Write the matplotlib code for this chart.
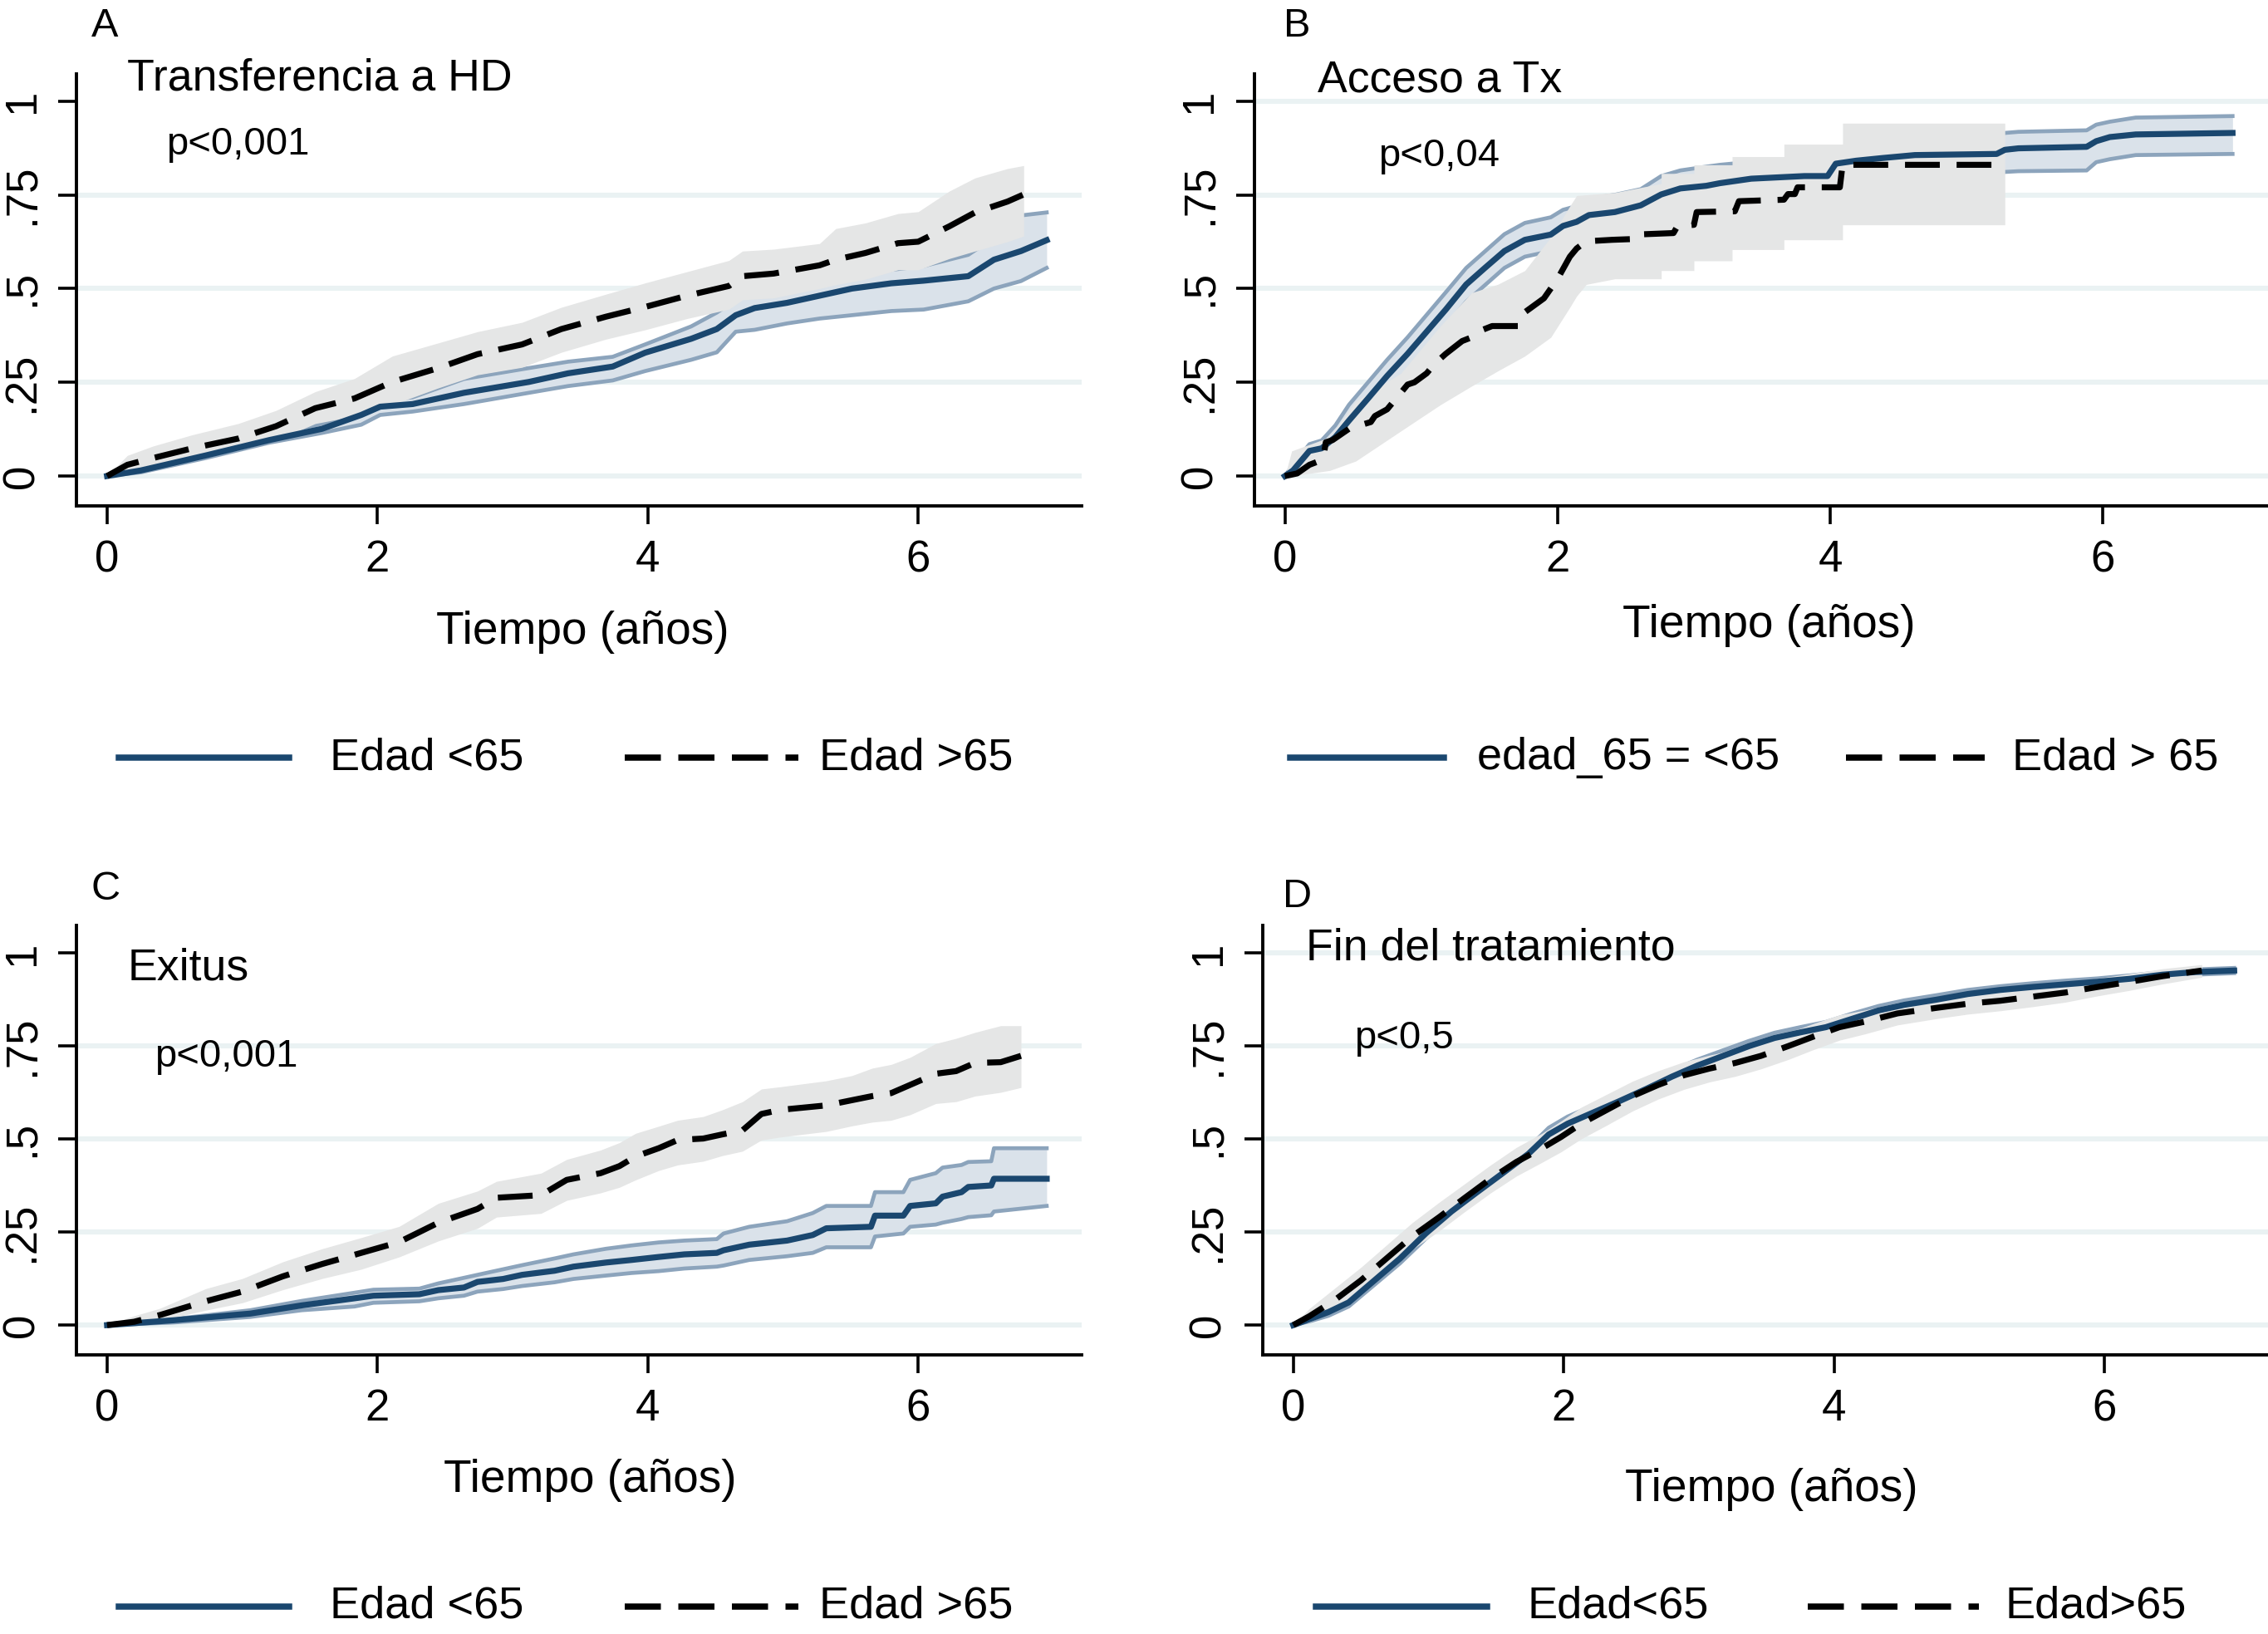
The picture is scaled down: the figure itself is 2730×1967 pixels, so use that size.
import matplotlib
matplotlib.use("Agg")
import matplotlib.pyplot as plt
from matplotlib.lines import Line2D

plt.rcParams['font.family'] = ['Liberation Sans', 'DejaVu Sans']

NAVY = '#1a476f'
CI_LINE = '#8ca4bc'
CI_FILL = '#dae2ea'
GRAY_FILL = '#e5e6e6'
GRID = '#eaf2f3'

# ---------- A: Transferencia a HD ----------
a_young_t = [0, 0.25, 0.73, 1.2, 1.59, 1.88, 2.02, 2.26, 2.64, 3.12, 3.41, 3.74, 3.98, 4.32, 4.51, 4.65, 4.79,
             5.03, 5.27, 5.51, 5.8, 6.04, 6.37, 6.56, 6.76, 6.95]
a_young = [0, .015, .055, .096, .126, .163, .185, .192, .222, .251, .274, .292, .329, .366, .392, .429, .448,
           .462, .481, .500, .514, .521, .533, .577, .600, .629]
a_young_hi = [0, .02, .063, .107, .14, .17, .2, .21, .259, .288, .305, .318, .351, .399, .436, .47, .485,
              .50, .515, .53, .55, .56, .59, .636, .695, .703]
a_young_lo = [0, .01, .048, .089, .115, .137, .163, .172, .192, .222, .24, .255, .28, .31, .33, .385, .39,
              .407, .42, .429, .44, .444, .466, .50, .52, .555]

a_old_t = [0, 0.15, 0.34, 0.63, 0.97, 1.25, 1.54, 1.83, 2.11, 2.45, 2.74, 3.07, 3.36, 3.69, 3.98, 4.29, 4.6,
           4.7, 4.93, 5.27, 5.39, 5.61, 5.85, 6.0, 6.23, 6.42, 6.66, 6.78]
a_old = [0, .03, .048, .074, .10, .133, .181, .207, .251, .288, .325, .351, .392, .425, .451, .481, .507,
         .533, .540, .562, .577, .595, .621, .625, .666, .703, .732, .751]
a_old_hi = [0, .055, .08, .11, .14, .175, .225, .26, .32, .355, .385, .41, .45, .485, .515, .545, .575,
            .60, .605, .62, .66, .675, .70, .705, .76, .795, .82, .828]
a_old_lo = [0, .01, .025, .045, .07, .095, .14, .16, .19, .235, .27, .29, .33, .365, .39, .42, .445,
            .47, .475, .50, .51, .525, .55, .55, .58, .60, .625, .64]

# ---------- B: Acceso a Tx ----------
b_young_t = [0, .06, .18, .27, .37, .47, .61, .75, .90, 1.04, 1.18, 1.33, 1.47, 1.61, 1.76, 1.95, 2.04, 2.14,
             2.23, 2.42, 2.61, 2.76, 2.90, 3.09, 3.19, 3.42, 3.81, 3.98, 4.04, 4.19, 4.38, 4.62, 5.22, 5.28,
             5.38, 5.88, 5.95, 6.05, 6.24, 6.95]
b_young = [0, .015, .067, .074, .104, .148, .207, .267, .326, .385, .444, .511, .556, .600, .630, .644, .667,
           .678, .696, .704, .722, .751, .767, .774, .781, .793, .800, .800, .833, .841, .848, .856, .859,
           .870, .874, .878, .893, .904, .911, .915]
b_young_hi = [0, .03, .085, .095, .135, .19, .25, .31, .37, .43, .49, .555, .60, .645, .675, .69, .71, .72,
              .74, .75, .765, .80, .815, .825, .83, .838, .845, .86, .87, .878, .885, .89, .905, .915, .918,
              .922, .937, .945, .956, .96]
b_young_lo = [0, .005, .045, .05, .07, .105, .165, .225, .28, .34, .40, .465, .51, .555, .585, .60, .62, .63,
              .65, .66, .675, .70, .72, .725, .735, .745, .755, .775, .79, .80, .81, .81, .81, .811, .813,
              .815, .837, .845, .856, .859]

b_old_t = [0, .09, .18, .28, .30, .35, .47, .50, .63, .66, .75, .80, .90, .95, 1.04, 1.10, 1.18, 1.30, 1.37,
           1.45, 1.52, 1.71, 1.73, 1.76, 1.90, 2.00, 2.09, 2.14, 2.21, 2.40, 2.55, 2.57, 2.85, 2.88, 3.00,
           3.02, 3.30, 3.33, 3.66, 3.69, 3.74, 3.76, 4.07, 4.09, 5.28]
b_old = [0, .007, .03, .044, .09, .096, .126, .13, .144, .16, .178, .2, .244, .25, .274, .3, .326, .36, .37,
         .39, .40, .40, .42, .437, .474, .526, .585, .607, .626, .63, .632, .644, .648, .667, .670,
         .704, .706, .733, .737, .752, .752, .77, .77, .83, .83]
b_old_band_t = [0, .05, .33, .52, .85, 1.14, 1.37, 1.56, 1.76, 1.95, 2.09, 2.14, 2.21, 2.42, 2.76, 2.76,
                3.00, 3.00, 3.28, 3.28, 3.66, 3.66, 4.09, 4.09, 5.28]
b_old_hi = [0, .067, .104, .20, .274, .40, .489, .511, .548, .637, .72, .748, .75, .756, .78, .807,
            .807, .83, .83, .852, .852, .885, .885, .941, .941]
b_old_lo = [0, 0, .015, .04, .12, .19, .24, .28, .32, .37, .45, .48, .511, .526, .526, .548,
            .548, .574, .574, .604, .604, .63, .63, .67, .67]

# ---------- C: Exitus ----------
c_young_t = [0, .49, 1.06, 1.44, 1.83, 1.97, 2.31, 2.45, 2.64, 2.74, 2.93, 3.07, 3.31, 3.45, 3.69, 3.88, 4.08,
             4.27, 4.51, 4.56, 4.75, 5.03, 5.22, 5.32, 5.65, 5.68, 5.89, 5.94, 6.13, 6.18, 6.32, 6.37, 6.54,
             6.56, 6.95]
c_young = [0, .013, .031, .053, .072, .079, .083, .094, .101, .116, .124, .135, .146, .157, .168, .175, .183,
           .19, .194, .201, .216, .227, .242, .26, .264, .294, .294, .32, .327, .345, .357, .371, .375,
           .393, .393]
c_young_hi = [0, .016, .04, .065, .087, .095, .098, .112, .127, .135, .15, .161, .179, .19, .205, .214, .222,
              .227, .231, .246, .264, .279, .301, .32, .32, .357, .357, .39, .408, .423, .43, .438, .44,
              .475, .475]
c_young_lo = [0, .007, .022, .04, .05, .06, .064, .072, .079, .09, .097, .105, .115, .124, .133, .14, .145,
              .152, .157, .16, .175, .185, .194, .209, .209, .238, .246, .264, .27, .275, .285, .29, .295,
              .305, .32]

c_old_t = [0, .2, .39, .73, 1.0, 1.3, 1.59, 1.88, 2.16, 2.45, 2.74, 2.88, 3.21, 3.40, 3.65, 3.79, 3.91, 4.08,
           4.22, 4.41, 4.55, 4.70, 4.84, 4.98, 5.32, 5.51, 5.66, 5.80, 5.94, 6.13, 6.28, 6.42, 6.61, 6.76]
c_old = [0, .009, .027, .064, .09, .131, .164, .194, .223, .275, .312, .342, .349, .39, .408, .427, .453, .475,
         .497, .501, .512, .523, .567, .578, .59, .604, .615, .623, .645, .675, .682, .704, .706, .723]
c_old_hi = [0, .025, .045, .098, .125, .17, .205, .235, .265, .327, .36, .386, .408, .445, .47, .49, .515, .534,
            .55, .56, .578, .6, .634, .64, .656, .67, .69, .70, .719, .756, .77, .786, .804, .804]
c_old_lo = [0, .003, .012, .04, .06, .095, .125, .15, .183, .226, .26, .29, .30, .335, .355, .37, .39, .415,
            .43, .44, .455, .467, .497, .505, .52, .535, .545, .55, .565, .595, .60, .615, .625, .638]

# ---------- D: Fin del tratamiento ----------
d_young_t = [0, .12, .26, .41, .60, .79, .98, 1.17, 1.36, 1.55, 1.74, 1.89, 2.03, 2.22, 2.41, 2.61, 2.80,
             2.99, 3.18, 3.37, 3.56, 3.75, 3.94, 4.13, 4.33, 4.52, 4.76, 4.99, 5.23, 5.47, 5.71, 5.95, 6.19,
             6.43, 6.67, 6.96]
d_young = [0, .016, .035, .061, .12, .179, .246, .305, .357, .408, .46, .512, .541, .571, .601, .634, .667,
           .697, .723, .749, .771, .786, .80, .822, .845, .86, .874, .889, .90, .908, .915, .922, .93, .941,
           .948, .952]
d_young_hi = [0, .022, .045, .072, .132, .192, .26, .318, .37, .423, .476, .53, .56, .59, .62, .652, .684,
              .713, .738, .763, .785, .80, .814, .836, .857, .872, .886, .90, .91, .918, .925, .931, .939,
              .948, .955, .959]
d_young_lo = [0, .01, .025, .05, .108, .166, .232, .292, .344, .393, .444, .494, .522, .552, .582, .616, .65,
              .681, .708, .735, .757, .772, .786, .808, .833, .848, .862, .878, .89, .898, .905, .913, .921,
              .934, .941, .945]

d_old_t = [0, .12, .31, .50, .69, .88, 1.08, 1.27, 1.46, 1.65, 1.84, 1.98, 2.13, 2.32, 2.51, 2.70, 2.89, 3.08,
           3.27, 3.46, 3.66, 3.85, 4.04, 4.23, 4.47, 4.76, 4.99, 5.23, 5.47, 5.71, 5.95, 6.19, 6.43, 6.72]
d_old = [0, .024, .068, .12, .179, .238, .29, .342, .393, .438, .475, .505, .541, .578, .615, .645, .671, .689,
         .704, .723, .749, .775, .80, .815, .837, .852, .863, .871, .882, .893, .908, .922, .937, .952]
d_old_hi = [0, .045, .10, .155, .215, .275, .33, .38, .43, .477, .515, .548, .585, .62, .655, .683, .707, .725,
            .74, .76, .785, .81, .833, .846, .866, .88, .89, .898, .908, .918, .931, .944, .957, .968]
d_old_lo = [0, .008, .04, .088, .145, .203, .253, .305, .355, .40, .437, .465, .5, .537, .575, .607, .633, .653,
            .668, .688, .713, .74, .765, .782, .806, .823, .835, .844, .855, .867, .884, .899, .916, .934]

y_ticks = [0, 0.25, 0.5, 0.75, 1]
y_labels = ['0', '.25', '.5', '.75', '1']
x_ticks = [0, 2, 4, 6]

LW = 2.6
DASH = (5.8, 2.8)


def draw_panel(ax, young, old, old_band, grid_vals):
    yt, ym, yh, yl = young
    ot, om = old
    bt, bh, bl = old_band
    for g in grid_vals:
        ax.axhline(g, color=GRID, lw=2.2, zorder=0)
    # blue CI
    ax.fill_between(yt, yl, yh, color=CI_FILL, lw=0, zorder=1)
    ax.plot(yt, yh, color=CI_LINE, lw=1.7, zorder=2)
    ax.plot(yt, yl, color=CI_LINE, lw=1.7, zorder=2)
    # gray CI
    ax.fill_between(bt, bl, bh, color=GRAY_FILL, lw=0, zorder=3)
    ax.plot(yt, ym, color=NAVY, lw=LW, zorder=4)
    ln, = ax.plot(ot, om, color='black', lw=LW, zorder=5)
    ln.set_dashes(DASH)

    ax.set_xlim(-0.225, 7.21)
    ax.set_ylim(-0.08, 1.073)
    ax.set_xticks(x_ticks)
    ax.set_xticklabels([str(v) for v in x_ticks])
    ax.set_yticks(y_ticks)
    ax.set_yticklabels(y_labels, rotation=90, va='center')
    ax.tick_params(axis='both', length=8, width=1.3, labelsize=19, pad=6.5, color='black')
    for s in ['top', 'right']:
        ax.spines[s].set_visible(False)
    for s in ['left', 'bottom']:
        ax.spines[s].set_linewidth(1.4)
    ax.set_facecolor('white')


def legend(fig, y, solid_x, text1, text1_x, dash_x, text2, text2_x):
    fig.add_artist(Line2D(solid_x, [y, y], color=NAVY, lw=2.7, transform=fig.transFigure))
    dl = Line2D(dash_x, [y, y], color='black', lw=2.7, transform=fig.transFigure)
    dl.set_dashes((5.8, 2.8))
    fig.add_artist(dl)
    fig.text(text1_x, y, text1, fontsize=19.5, va='center', ha='left')
    fig.text(text2_x, y, text2, fontsize=19.5, va='center', ha='left')


fig = plt.figure(figsize=(13.65, 9.835), dpi=200)

axA = fig.add_axes([0.0338, 0.6903, 0.4432, 0.2646])
draw_panel(axA, (a_young_t, a_young, a_young_hi, a_young_lo), (a_old_t, a_old),
           (a_old_t, a_old_hi, a_old_lo), [0, 0.25, 0.5, 0.75])
axB = fig.add_axes([0.553, 0.6903, 0.447, 0.2646])
draw_panel(axB, (b_young_t, b_young, b_young_hi, b_young_lo), (b_old_t, b_old),
           (b_old_band_t, b_old_hi, b_old_lo), [0, 0.25, 0.5, 0.75, 1])
axC = fig.add_axes([0.0338, 0.1708, 0.4432, 0.2628])
draw_panel(axC, (c_young_t, c_young, c_young_hi, c_young_lo), (c_old_t, c_old),
           (c_old_t, c_old_hi, c_old_lo), [0, 0.25, 0.5, 0.75])
axD = fig.add_axes([0.5568, 0.1708, 0.4432, 0.2628])
draw_panel(axD, (d_young_t, d_young, d_young_hi, d_young_lo), (d_old_t, d_old),
           (d_old_t, d_old_hi, d_old_lo), [0, 0.25, 0.5, 0.75, 1])

# panel letters, titles, p-values
fig.text(0.0402, 0.984, 'A', fontsize=17.5, va='center')
fig.text(0.566, 0.984, 'B', fontsize=17.5, va='center')
fig.text(0.0402, 0.4557, 'C', fontsize=17.5, va='center')
fig.text(0.5657, 0.4513, 'D', fontsize=17.5, va='center')

fig.text(0.0561, 0.952, 'Transferencia a HD', fontsize=19.3, va='center')
fig.text(0.581, 0.951, 'Acceso a Tx', fontsize=19.3, va='center')
fig.text(0.0561, 0.4075, 'Exitus', fontsize=19.3, va='center')
fig.text(0.576, 0.4195, 'Fin del tratamiento', fontsize=19.3, va='center')

fig.text(0.0733, 0.9115, 'p<0,001', fontsize=17, va='center')
fig.text(0.6078, 0.9044, 'p<0,04', fontsize=17, va='center')
fig.text(0.0682, 0.3531, 'p<0,001', fontsize=17, va='center')
fig.text(0.597, 0.3646, 'p<0,5', fontsize=17, va='center')

# x-axis titles
fig.text(0.257, 0.613, 'Tiempo (años)', fontsize=19.8, ha='center', va='center')
fig.text(0.78, 0.617, 'Tiempo (años)', fontsize=19.8, ha='center', va='center')
fig.text(0.26, 0.0938, 'Tiempo (años)', fontsize=19.8, ha='center', va='center')
fig.text(0.781, 0.0885, 'Tiempo (años)', fontsize=19.8, ha='center', va='center')

# legends
legend(fig, 0.5363, [0.0523, 0.1276], 'Edad <65', 0.1454, [0.2755, 0.352], 'Edad >65', 0.361)
legend(fig, 0.5363, [0.5689, 0.6365], 'edad_65 = <65', 0.6511, [0.8138, 0.875], 'Edad > 65', 0.8871)
legend(fig, 0.0168, [0.0523, 0.1276], 'Edad <65', 0.1454, [0.2755, 0.352], 'Edad >65', 0.361)
legend(fig, 0.0168, [0.5804, 0.6556], 'Edad<65', 0.6735, [0.7972, 0.8724], 'Edad>65', 0.8839)

fig.savefig('out.png', dpi=200, facecolor='white')
